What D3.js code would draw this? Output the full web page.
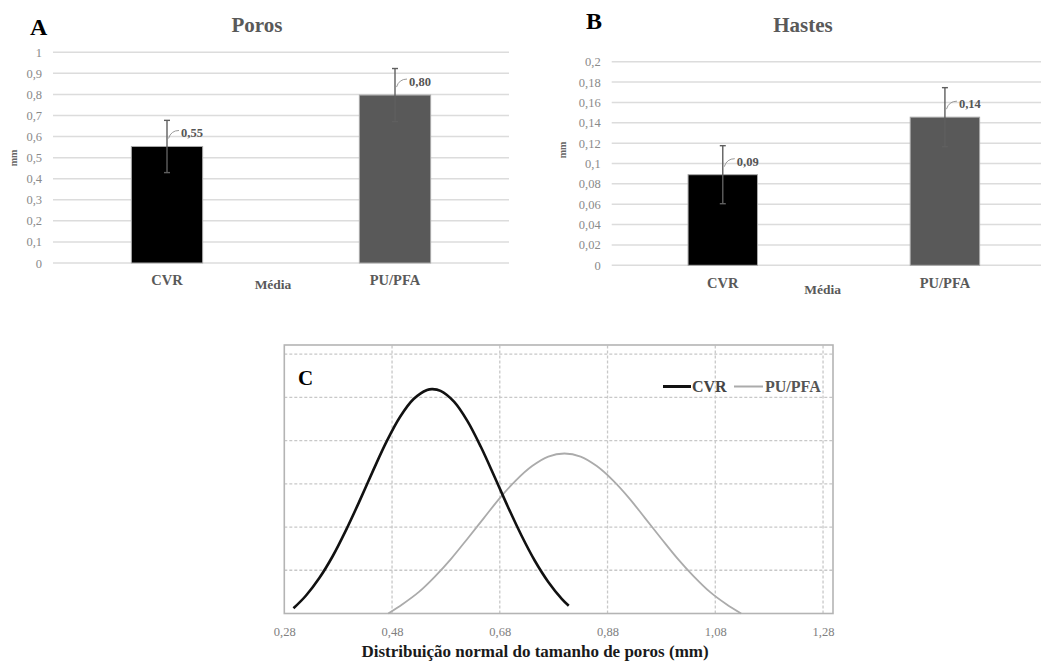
<!DOCTYPE html>
<html><head><meta charset="utf-8">
<script src="https://cdn.jsdelivr.net/npm/d3@7"></script>
<style>
body{margin:0;background:#fff}
svg{display:block}
svg text{font-family:"Liberation Serif",serif !important}
</style>
</head><body>
<svg id="c" width="1041" height="662" font-family="Liberation Serif, serif"></svg>
<script>
// ---------- data ----------
const categories = ["CVR", "PU/PFA"];
const barColors = ["#000000", "#595959"];

const porosMean = [0.553, 0.797];
const porosSD = [0.124, 0.126];
const porosLabels = ["0,55", "0,80"];
const porosTicks = [0, 0.1, 0.2, 0.3, 0.4, 0.5, 0.6, 0.7, 0.8, 0.9, 1];

const hastesMean = [0.089, 0.1455];
const hastesSD = [0.0285, 0.029];
const hastesLabels = ["0,09", "0,14"];
const hastesTicks = [0, 0.02, 0.04, 0.06, 0.08, 0.1, 0.12, 0.14, 0.16, 0.18, 0.2];

const distTicks = [0.28, 0.48, 0.68, 0.88, 1.08, 1.28];
const distGridY = [1, 2, 3, 4, 5, 6];
const cvrX = [0.297, 0.32, 0.345, 0.37, 0.395, 0.42, 0.445, 0.47, 0.495, 0.52, 0.545, 0.555, 0.57, 0.595, 0.62, 0.645, 0.67, 0.695, 0.72, 0.745, 0.77, 0.795, 0.808];
const cvrY = [0.12, 0.41, 0.82, 1.33, 1.94, 2.61, 3.31, 3.98, 4.55, 4.96, 5.17, 5.19, 5.15, 4.90, 4.45, 3.85, 3.17, 2.47, 1.81, 1.22, 0.73, 0.34, 0.18];
const pufX = [0.473, 0.50, 0.53, 0.56, 0.59, 0.62, 0.65, 0.68, 0.71, 0.74, 0.77, 0.80, 0.83, 0.86, 0.89, 0.92, 0.95, 0.98, 1.01, 1.04, 1.07, 1.10, 1.128];
const pufY = [0.0, 0.22, 0.50, 0.86, 1.27, 1.73, 2.20, 2.67, 3.08, 3.41, 3.63, 3.70, 3.63, 3.41, 3.08, 2.67, 2.20, 1.73, 1.27, 0.86, 0.50, 0.22, 0.0];

// ---------- drawing ----------
const FONT = "Liberation Serif, serif";
const svg = d3.select("#c");
const comma = d => d3.format("~g")(d).replace(".", ",");

function barPanel(o) {
  const g = svg.append("g").attr("font-family", FONT);
  const x = d3.scaleBand().domain(categories).range([o.x0, o.x1]).paddingInner(0.6875).paddingOuter(0.34375);
  const y = d3.scaleLinear().domain([0, o.max]).range([o.yb, o.yt]);
  g.selectAll(".grid").data(o.ticks).enter().append("line")
    .attr("x1", o.x0).attr("x2", o.x1)
    .attr("y1", d => y(d)).attr("y2", d => y(d))
    .attr("stroke", "#dcdcdc").attr("stroke-width", 1.5);
  const ax = g.append("g").attr("transform", `translate(${o.x0},0)`)
    .call(d3.axisLeft(y).tickValues(o.ticks).tickSize(0).tickPadding(11).tickFormat(comma));
  ax.attr("font-family", FONT);
  ax.select(".domain").remove();
  ax.selectAll("text").attr("font-family", FONT).attr("font-size", 12.5).attr("fill", "#8a8a8a");
  g.selectAll(".bar").data(categories).enter().append("rect")
    .attr("x", d => x(d)).attr("width", x.bandwidth())
    .attr("y", (d, i) => y(o.mean[i])).attr("height", (d, i) => y(0) - y(o.mean[i]))
    .attr("fill", (d, i) => barColors[i]).attr("stroke", "#a9a9a9").attr("stroke-width", 1);
  categories.forEach((c, i) => {
    const cx = x(c) + x.bandwidth() / 2;
    const lo = y(o.mean[i] - o.sd[i]), hi = y(o.mean[i] + o.sd[i]);
    g.append("line").attr("x1", cx).attr("x2", cx).attr("y1", lo).attr("y2", hi)
      .attr("stroke", "#5f5f5f").attr("stroke-width", 1.4);
    [lo, hi].forEach(v => g.append("line").attr("x1", cx - 3).attr("x2", cx + 3).attr("y1", v).attr("y2", v)
      .attr("stroke", "#5f5f5f").attr("stroke-width", 1.4));
    const top = y(o.mean[i]);
    g.append("path").attr("d", `M${cx + 1.5},${top - 8} Q${cx + 4},${top - 16} ${cx + 12},${top - 16}`)
      .attr("fill", "none").attr("stroke", "#9a9a9a").attr("stroke-width", 1);
    g.append("text").attr("x", cx + 14).attr("y", top - 9).attr("font-size", 12.5).attr("font-weight", "bold")
      .attr("fill", "#555").text(o.labels[i]);
    g.append("text").attr("x", cx).attr("y", o.catY).attr("text-anchor", "middle")
      .attr("font-size", 14.5).attr("font-weight", "bold").attr("fill", "#595959").text(c);
  });
  g.append("text").attr("x", o.mediaX).attr("y", o.mediaY).attr("text-anchor", "middle")
    .attr("font-size", 13.5).attr("font-weight", "bold").attr("fill", "#595959").text("Média");
  g.append("text").attr("transform", `translate(${o.mmX},${o.mmY}) rotate(-90)`).attr("text-anchor", "middle")
    .attr("font-size", 10).attr("font-weight", "bold").attr("fill", "#666").text("mm");
  g.append("text").attr("x", o.titleX).attr("y", 31.5).attr("text-anchor", "middle")
    .attr("font-size", 21).attr("font-weight", "bold").attr("fill", "#595959").text(o.title);
  g.append("text").attr("x", o.letterX).attr("y", o.letterY)
    .attr("font-size", 24).attr("font-weight", "bold").attr("fill", "#000").text(o.letter);
}

barPanel({x0: 53, x1: 509, yb: 263, yt: 52.3, max: 1, ticks: porosTicks, mean: porosMean, sd: porosSD,
  labels: porosLabels, catY: 285, mediaX: 273, mediaY: 289, mmX: 17, mmY: 158, title: "Poros", titleX: 257,
  letter: "A", letterX: 30, letterY: 35});
barPanel({x0: 611.7, x1: 1056, yb: 265.3, yt: 61.7, max: 0.2, ticks: hastesTicks, mean: hastesMean, sd: hastesSD,
  labels: hastesLabels, catY: 288, mediaX: 822.7, mediaY: 294, mmX: 566, mmY: 150, title: "Hastes", titleX: 803,
  letter: "B", letterX: 586, letterY: 29});

// ---------- panel C ----------
const gc = svg.append("g").attr("font-family", FONT);
const xc = d3.scaleLinear().domain([0.28, 1.2985]).range([284.3, 833]);
const yc = d3.scaleLinear().domain([0, 6.21]).range([613.5, 345]);
gc.selectAll(".hg").data(distGridY).enter().append("line")
  .attr("x1", xc.range()[0]).attr("x2", xc.range()[1]).attr("y1", d => yc(d)).attr("y2", d => yc(d))
  .attr("stroke", "#c8c8c8").attr("stroke-width", 1.3).attr("stroke-dasharray", "3,2");
gc.selectAll(".vg").data(distTicks.slice(1)).enter().append("line")
  .attr("x1", d => xc(d)).attr("x2", d => xc(d)).attr("y1", yc.range()[0]).attr("y2", yc.range()[1])
  .attr("stroke", "#c8c8c8").attr("stroke-width", 1.3).attr("stroke-dasharray", "3,2");
gc.append("rect").attr("x", xc.range()[0]).attr("y", yc.range()[1])
  .attr("width", xc.range()[1] - xc.range()[0]).attr("height", yc.range()[0] - yc.range()[1])
  .attr("fill", "none").attr("stroke", "#b4b4b4").attr("stroke-width", 1.6);
const axc = gc.append("g").attr("transform", `translate(0,${yc.range()[0]})`)
  .call(d3.axisBottom(xc).tickValues(distTicks).tickSize(0).tickPadding(14).tickFormat(d => d3.format(".2f")(d).replace(".", ",")));
axc.attr("font-family", FONT);
axc.select(".domain").remove();
axc.selectAll("text").attr("font-family", FONT).attr("font-size", 12.5).attr("fill", "#808080");

const line = d3.line().x(d => xc(d[0])).y(d => yc(d[1])).curve(d3.curveCatmullRom);
gc.append("path").attr("d", line(d3.zip(pufX, pufY))).attr("fill", "none").attr("stroke", "#ababab").attr("stroke-width", 1.8);
gc.append("path").attr("d", line(d3.zip(cvrX, cvrY))).attr("fill", "none").attr("stroke", "#111").attr("stroke-width", 2.6);

gc.append("text").attr("x", 298).attr("y", 385).attr("font-size", 21).attr("font-weight", "bold").attr("fill", "#000").text("C");
gc.append("line").attr("x1", 663).attr("x2", 691).attr("y1", 386.5).attr("y2", 386.5).attr("stroke", "#111").attr("stroke-width", 3);
gc.append("text").attr("x", 692).attr("y", 392).attr("font-size", 16).attr("font-weight", "bold").attr("fill", "#444").text("CVR");
gc.append("line").attr("x1", 734).attr("x2", 763).attr("y1", 386.5).attr("y2", 386.5).attr("stroke", "#ababab").attr("stroke-width", 2);
gc.append("text").attr("x", 765).attr("y", 392).attr("font-size", 16).attr("font-weight", "bold").attr("fill", "#555").text("PU/PFA");
gc.append("text").attr("x", 535).attr("y", 657).attr("text-anchor", "middle").attr("font-size", 17)
  .attr("font-weight", "bold").attr("fill", "#1a1a1a").text("Distribuição normal do tamanho de poros (mm)");
</script>
</body></html>
